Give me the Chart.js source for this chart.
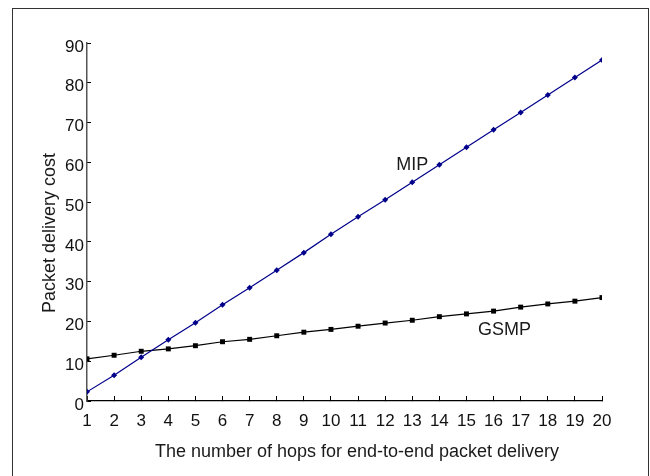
<!DOCTYPE html>
<html>
<head>
<meta charset="utf-8">
<script src="https://cdn.jsdelivr.net/npm/chart.js@4.4.1/dist/chart.umd.min.js"></script>
<style>
  html, body { margin: 0; padding: 0; background: #fff; }
  #wrap { width: 650px; height: 476px; }
</style>
</head>
<body>
<div id="wrap"><canvas id="cost-chart" width="650" height="476"></canvas></div>
<script>
  const hops = [1, 2, 3, 4, 5, 6, 7, 8, 9, 10, 11, 12, 13, 14, 15, 16, 17, 18, 19, 20];
  const mipCost = [2.3, 6.5, 11.0, 15.4, 19.7, 24.2, 28.5, 32.9, 37.3, 41.9,
                   46.3, 50.6, 55.0, 59.4, 63.8, 68.2, 72.5, 76.9, 81.3, 85.7];
  const gsmpCost = [10.6, 11.5, 12.5, 13.1, 13.9, 14.9, 15.5, 16.4, 17.3, 18.0,
                    18.8, 19.6, 20.3, 21.2, 21.9, 22.6, 23.6, 24.4, 25.1, 26.0];
  const yTicks = [0, 10, 20, 30, 40, 50, 60, 70, 80, 90];

  // in-plot labels, placed in data coordinates
  const seriesLabels = [
    { text: "MIP", x: 13.0, y: 59.3 },
    { text: "GSMP", x: 16.4, y: 17.9 },
  ];
  const xTitle = "The number of hops for end-to-end packet delivery";
  const yTitle = "Packet delivery cost";

  const FONT = "'Liberation Sans', Arial, sans-serif";

  const toPoints = (vals) => vals.map((v, i) => ({ x: hops[i], y: v }));

  // outer frame, axis titles and series labels
  const extras = {
    id: "extras",
    beforeDraw(chart) {
      const ctx = chart.ctx;
      ctx.save();
      ctx.strokeStyle = "#333";
      ctx.lineWidth = 1;
      ctx.strokeRect(12.5, 8.5, 636, 480);
      ctx.restore();
    },
    afterDraw(chart) {
      const ctx = chart.ctx;
      const xs = chart.scales.x, ys = chart.scales.y;
      ctx.save();
      ctx.fillStyle = "#1a1a1a";
      ctx.font = "18px " + FONT;
      ctx.textAlign = "center";
      ctx.textBaseline = "middle";
      seriesLabels.forEach((l) => {
        ctx.fillText(l.text, xs.getPixelForValue(l.x), ys.getPixelForValue(l.y));
      });
      // axis titles sit a bit off the axis centre in the original figure
      ctx.fillText(xTitle, 357, 452);
      ctx.translate(50, 233);
      ctx.rotate(-Math.PI / 2);
      ctx.fillText(yTitle, 0, 0);
      ctx.restore();
    },
  };

  new Chart(document.getElementById("cost-chart"), {
    type: "line",
    data: {
      datasets: [
        {
          label: "MIP",
          data: toPoints(mipCost),
          borderColor: "#00008b",
          backgroundColor: "#00008b",
          borderWidth: 1.2,
          pointStyle: "rectRot",
          pointRadius: 3,
          pointBorderWidth: 0,
        },
        {
          label: "GSMP",
          data: toPoints(gsmpCost),
          borderColor: "#000",
          backgroundColor: "#000",
          borderWidth: 1.2,
          pointStyle: "rect",
          pointRadius: 3.5,
          pointBorderWidth: 0,
        },
      ],
    },
    options: {
      responsive: false,
      animation: false,
      layout: { padding: { left: 0, top: 43, right: 48, bottom: 0 } },
      plugins: { legend: { display: false }, tooltip: { enabled: false } },
      scales: {
        x: {
          type: "linear",
          min: 1,
          max: 20,
          afterFit: (s) => { s.height = 75; },
          afterBuildTicks: (s) => { s.ticks = hops.map((v) => ({ value: v })); },
          ticks: { autoSkip: false, maxRotation: 0, padding: 15, color: "#111", font: { family: FONT, size: 17 } },
          grid: { drawOnChartArea: false, drawTicks: true, tickLength: -5, tickColor: "#000", tickWidth: 1 },
          border: { display: true, color: "#000", width: 1.2 },
        },
        y: {
          min: 0,
          max: 90,
          afterFit: (s) => { s.width = 87; },
          afterBuildTicks: (s) => { s.ticks = yTicks.map((v) => ({ value: v })); },
          ticks: { padding: 7, labelOffset: 4, color: "#111", font: { family: FONT, size: 17 } },
          grid: { drawOnChartArea: false, drawTicks: true, tickLength: -4, tickColor: "#000", tickWidth: 1 },
          border: { display: true, color: "#555", width: 1.5 },
        },
      },
    },
    plugins: [extras],
  });
</script>
</body>
</html>
